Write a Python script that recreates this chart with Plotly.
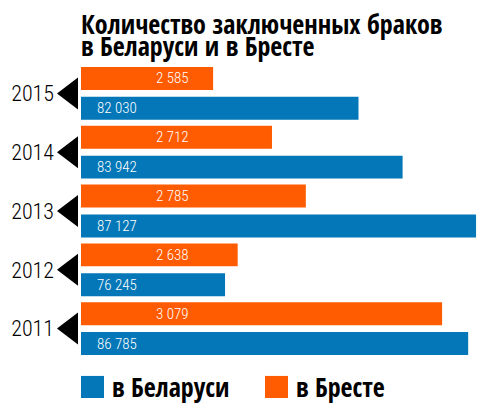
import plotly.graph_objects as go

years = [2015, 2014, 2013, 2012, 2011]
belarus = [82030, 83942, 87127, 76245, 86785]
brest = [2585, 2712, 2785, 2638, 3079]
title_lines = ['Количество заключенных браков', 'в Беларуси и в Бресте']
legend_labels = ['в Беларуси', 'в Бресте']

BLUE = '#0377b7'
ORANGE = '#ff5b00'
COND = 'Open Sans Condensed, Roboto Condensed, sans-serif'
LIGHT = 'Roboto Condensed, sans-serif'


def fmt(v):
    return f"{v:,}".replace(",", " ")


fig = go.Figure()

# orange on top of each pair, blue below; two separate x scales
fig.add_trace(go.Bar(
    y=years, x=belarus, orientation='h', xaxis='x', yaxis='y',
    width=0.39, offset=-0.449, marker=dict(color=BLUE, line=dict(width=0)),
    hoverinfo='skip', showlegend=False
))
fig.add_trace(go.Bar(
    y=years, x=brest, orientation='h', xaxis='x2', yaxis='y',
    width=0.39, offset=0.059, marker=dict(color=ORANGE, line=dict(width=0)),
    hoverinfo='skip', showlegend=False
))

annotations = []
shapes = []
for yr, b, o in zip(years, belarus, brest):
    annotations.append(dict(
        x=0.0346, xref='paper', y=yr - 0.254, yref='y', text=fmt(b),
        xanchor='left', yanchor='middle', showarrow=False,
        font=dict(family=LIGHT, size=15, color='white', weight=300)
    ))
    annotations.append(dict(
        x=0.2247, xref='paper', y=yr + 0.254, yref='y', text=fmt(o),
        xanchor='center', yanchor='middle', showarrow=False,
        font=dict(family=LIGHT, size=15, color='white', weight=300)
    ))
    # black pointer triangle next to each year
    shapes.append(dict(
        type='path', xref='paper', yref='y',
        path=f"M -0.0593 {yr} L -0.0074 {yr + 0.272} L -0.0074 {yr - 0.272} Z",
        fillcolor='black', line=dict(width=0)
    ))

# title, one annotation per line to control spacing
for line, ty in zip(title_lines, [1.136, 1.062]):
    annotations.append(dict(
        x=-0.005, xref='paper', y=ty, yref='paper', xanchor='left', yanchor='middle',
        text=f'<b>{line}</b>', showarrow=False,
        font=dict(family=COND, size=26, color='black')
    ))

# legend drawn by hand (big squares)
for label, color, x0 in zip(legend_labels, [BLUE, ORANGE], [0.0, 0.4543]):
    shapes.append(dict(
        type='rect', xref='paper', yref='paper',
        x0=x0, x1=x0 + 0.0568, y0=-0.136, y1=-0.061,
        fillcolor=color, line=dict(width=0)
    ))
    annotations.append(dict(
        x=x0 + 0.072, xref='paper', y=-0.098, yref='paper',
        xanchor='left', yanchor='middle', text=f'<b>{label}</b>',
        showarrow=False, font=dict(family=COND, size=26, color='black')
    ))

# page body has an 8px margin, so the figure is 8px smaller than the window
fig.update_layout(
    width=484, height=402,
    margin=dict(l=73, r=6, t=56, b=52, autoexpand=False),
    paper_bgcolor='white', plot_bgcolor='white',
    xaxis=dict(range=[70000, 87558], visible=False, fixedrange=True),
    xaxis2=dict(range=[2300, 3173.7], overlaying='x', visible=False, fixedrange=True),
    yaxis=dict(
        range=[2010.5, 2015.5], tickvals=years, ticktext=[str(y) for y in years],
        showgrid=False, zeroline=False, showline=False, ticks='',
        ticklabelstandoff=26, automargin=False,
        tickfont=dict(family=LIGHT, size=22, color='black', weight=300)
    ),
    annotations=annotations, shapes=shapes,
)

fig.write_html("out.html")
